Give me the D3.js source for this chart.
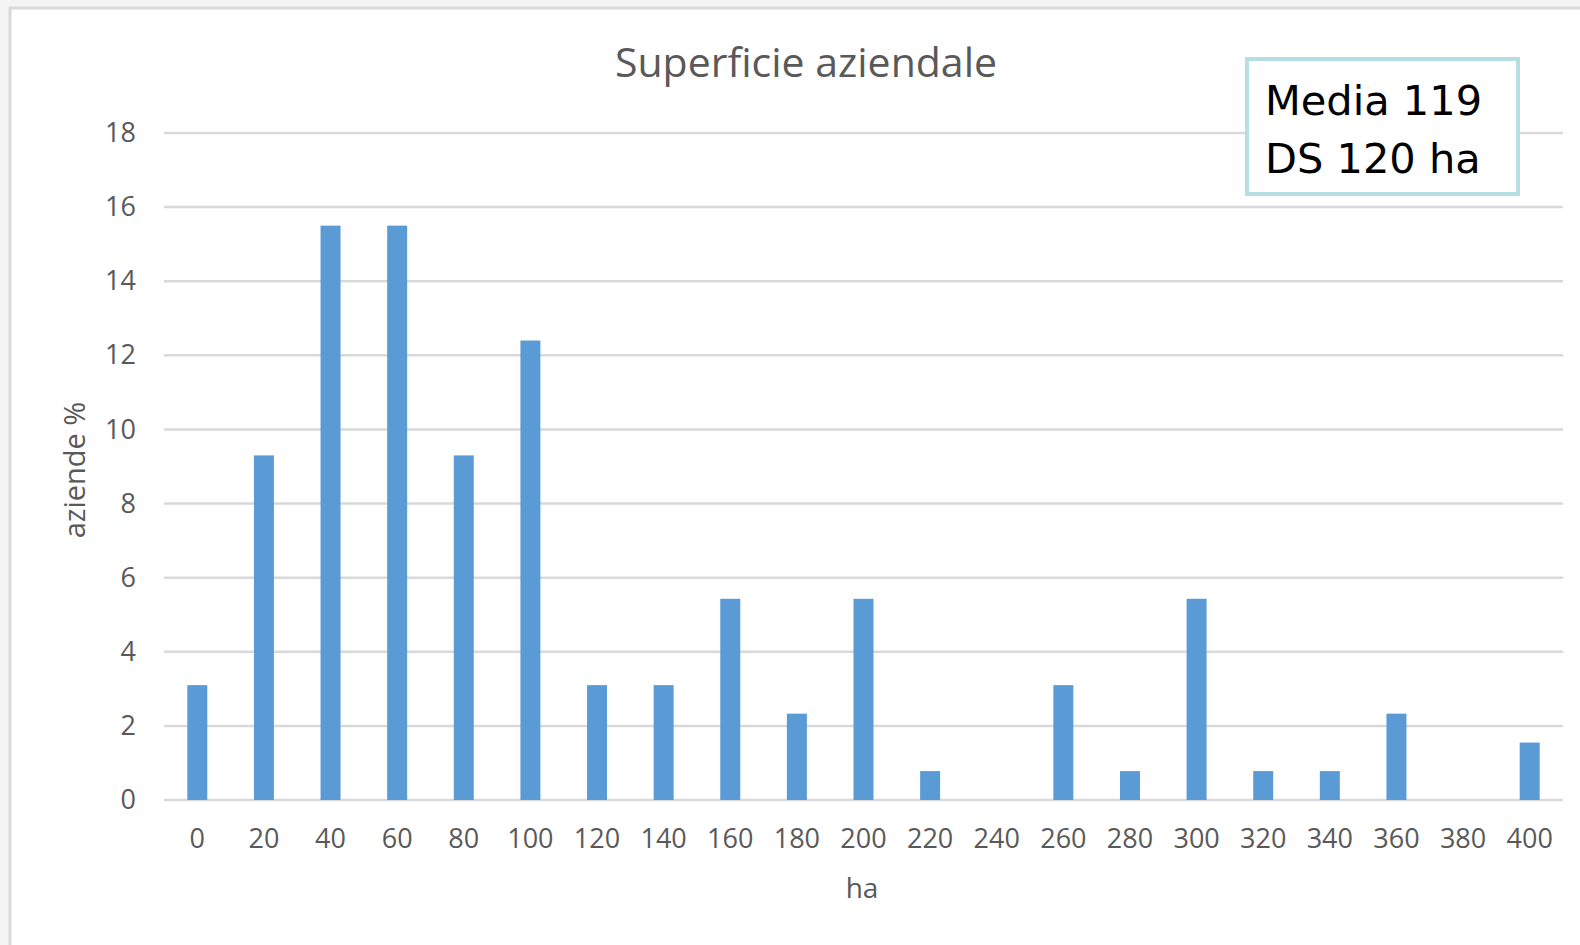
<!DOCTYPE html>
<html>
<head>
<meta charset="utf-8">
<script src="https://cdn.jsdelivr.net/npm/d3@7"></script>
<style>
  body { margin: 0; background: #f4f4f4; }
  svg { display: block; }
</style>
</head>
<body>
<div class="graph"></div>
<script>
// categories (ha) and share of farms (%)
var classi = ["0", "20", "40", "60", "80", "100", "120", "140", "160", "180", "200",
              "220", "240", "260", "280", "300", "320", "340", "360", "380", "400"];
var aziende = [3.1, 9.3, 15.5, 15.5, 9.3, 12.4, 3.1, 3.1, 5.43, 2.33, 5.43,
               0.78, 0, 3.1, 0.78, 5.43, 0.78, 0.78, 2.33, 0, 1.55];
var yTicks = [0, 2, 4, 6, 8, 10, 12, 14, 16, 18];
var titolo = "Superficie aziendale";
var nota = ["Media 119", "DS 120 ha"];

var width = 1580, height = 945;
var margin = {top: 133, right: 17, bottom: 145, left: 164};

var svg = d3.select("div.graph").append("svg")
    .attr("width", width)
    .attr("height", height);

// chart area with light border
svg.append("rect")
    .attr("x", 10).attr("y", 8)
    .attr("width", width).attr("height", height)
    .attr("fill", "#fff")
    .attr("stroke", "#d9d9d9")
    .attr("stroke-width", 3);

var x = d3.scaleBand()
    .domain(classi)
    .range([margin.left, width - margin.right])
    .paddingInner(0.7)
    .paddingOuter(0.35);

var y = d3.scaleLinear()
    .domain([0, 18])
    .range([height - margin.bottom, margin.top]);

// gridlines
svg.append("g")
    .selectAll("line")
    .data(yTicks)
    .enter().append("line")
      .attr("x1", margin.left)
      .attr("x2", width - margin.right)
      .attr("y1", function(d) { return y(d); })
      .attr("y2", function(d) { return y(d); })
      .attr("stroke", "#d9d9d9")
      .attr("stroke-width", 2.5);

// bars
svg.append("g")
    .selectAll("rect")
    .data(aziende)
    .enter().append("rect")
      .attr("x", function(d, i) { return x(classi[i]); })
      .attr("y", function(d) { return y(d); })
      .attr("width", x.bandwidth())
      .attr("height", function(d) { return y(0) - y(d); })
      .attr("fill", "#5b9bd5");

// y axis
var yAxis = svg.append("g")
    .attr("class", "y-axis")
    .attr("transform", "translate(" + (margin.left - 28) + ",0)")
    .call(d3.axisLeft(y).tickValues(yTicks).tickSize(0).tickPadding(0));
yAxis.select(".domain").remove();

// x axis
var xAxis = svg.append("g")
    .attr("class", "x-axis")
    .attr("transform", "translate(0," + (height - margin.bottom + 21) + ")")
    .call(d3.axisBottom(x).tickSize(0).tickPadding(0));
xAxis.select(".domain").remove();

svg.selectAll(".y-axis text, .x-axis text")
    .attr("font-family", "'Open Sans', sans-serif")
    .attr("font-size", 27)
    .attr("fill", "#595959");
svg.selectAll(".x-axis text").attr("dy", "1em");

// title
svg.append("text")
    .attr("x", 806).attr("y", 77)
    .attr("text-anchor", "middle")
    .attr("font-family", "'Open Sans', sans-serif")
    .attr("font-size", 41)
    .attr("fill", "#595959")
    .text(titolo);

// axis titles
svg.append("text")
    .attr("transform", "translate(85,470) rotate(-90)")
    .attr("text-anchor", "middle")
    .attr("font-family", "'Open Sans', sans-serif")
    .attr("font-size", 29)
    .attr("fill", "#595959")
    .text("aziende %");

svg.append("text")
    .attr("x", 862).attr("y", 898)
    .attr("text-anchor", "middle")
    .attr("font-family", "'Open Sans', sans-serif")
    .attr("font-size", 28)
    .attr("fill", "#595959")
    .text("ha");

// annotation box
svg.append("rect")
    .attr("x", 1247).attr("y", 59)
    .attr("width", 271).attr("height", 135)
    .attr("fill", "#fff")
    .attr("stroke", "#b7dee2")
    .attr("stroke-width", 4);

svg.append("g")
    .selectAll("text")
    .data(nota)
    .enter().append("text")
      .attr("x", 1265)
      .attr("y", function(d, i) { return 115 + i * 58; })
      .attr("font-family", "'DejaVu Sans', sans-serif")
      .attr("font-size", 41.5)
      .attr("fill", "#000")
      .text(function(d) { return d; });
</script>
</body>
</html>
